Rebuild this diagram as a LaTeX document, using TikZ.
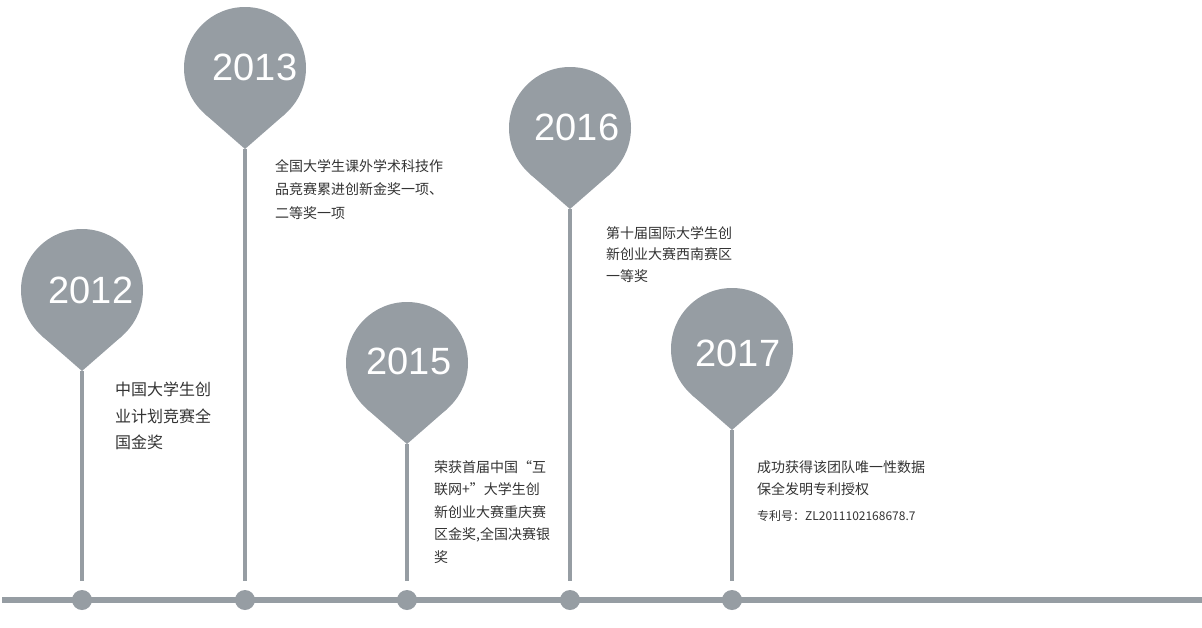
\documentclass[tikz,border=0pt]{standalone}
\usepackage{fontspec}
\usepackage{xcolor}
\usepackage{tikz}
\setmainfont{Liberation Sans}
\newfontfamily\cjk{Noto Sans CJK SC}
\definecolor{pinGray}  {RGB}{150, 157, 163}
\definecolor{noteGray} {RGB}{51,  51,  51}

\tikzset{
  bulb/.style  ={circle,fill=pinGray,minimum size=122,inner sep=0,outer sep=0},
  year/.style  ={text=white,font=\fontsize{38}{40}\selectfont},
  stem/.style  ={draw=pinGray,line width=4pt},
  knot/.style  ={circle,fill=pinGray,minimum size=20,inner sep=0},
  note/.style  ={anchor=north west,inner sep=0,align=left,text=noteGray},
}

\begin{document}
\begin{tikzpicture}[x=1pt,y=-1pt]

    \useasboundingbox (0,0) rectangle (1202,627);

    % ── LINHA DO TEMPO ────────────────────────────────────
    \coordinate (tlL) at (2,600);
    \coordinate (tlR) at (1202,600);
    \draw[pinGray,line width=6pt] (tlL) -- (tlR);

    % ── 2012 ──────────────────────────────────────────────
    \node[bulb] (b12) at (82,290){};
    \coordinate (t12) at (82,371);
    \coordinate (e12) at (82,581);
    \fill[pinGray] (b12.-49) -- (t12) -- (b12.-131) -- cycle;
    \draw[stem] (t12) -- (e12);
    \node[knot] (k12) at (82,600){};
    \node[year] (y12) at (91,290){2012};

    \node[note,font=\cjk\fontsize{16}{26.5}\selectfont] (n12) at (115,382){
      中国大学生创\\业计划竞赛全\\国金奖
    };

    % ── 2013 ──────────────────────────────────────────────
    \node[bulb] (b13) at (245,68){};
    \coordinate (t13) at (245,149);
    \coordinate (e13) at (245,581);
    \fill[pinGray] (b13.-49) -- (t13) -- (b13.-131) -- cycle;
    \draw[stem] (t13) -- (e13);
    \node[knot] (k13) at (245,600){};
    \node[year] (y13) at (255,67){2013};

    \node[note,font=\cjk\fontsize{14}{23.5}\selectfont] (n13) at (275,159){
      全国大学生课外学术科技作\\品竞赛累进创新金奖一项、\\二等奖一项
    };

    % ── 2015 ──────────────────────────────────────────────
    \node[bulb] (b15) at (407,363){};
    \coordinate (t15) at (407,444);
    \coordinate (e15) at (407,581);
    \fill[pinGray] (b15.-49) -- (t15) -- (b15.-131) -- cycle;
    \draw[stem] (t15) -- (e15);
    \node[knot] (k15) at (407,600){};
    \node[year] (y15) at (409,361){2015};

    \node[note,font=\cjk\fontsize{14}{22.5}\selectfont] (n15) at (434,460){
      荣获首届中国“互\\联网+”大学生创\\新创业大赛重庆赛\\区金奖,全国决赛银\\奖
    };

    % ── 2016 ──────────────────────────────────────────────
    \node[bulb] (b16) at (570,128){};
    \coordinate (t16) at (570,209);
    \coordinate (e16) at (570,581);
    \fill[pinGray] (b16.-49) -- (t16) -- (b16.-131) -- cycle;
    \draw[stem] (t16) -- (e16);
    \node[knot] (k16) at (570,600){};
    \node[year] (y16) at (577,127){2016};

    \node[note,font=\cjk\fontsize{14}{21.5}\selectfont] (n16) at (606,226){
      第十届国际大学生创\\新创业大赛西南赛区\\一等奖
    };

    % ── 2017 ──────────────────────────────────────────────
    \node[bulb] (b17) at (732,349){};
    \coordinate (t17) at (732,430);
    \coordinate (e17) at (732,581);
    \fill[pinGray] (b17.-49) -- (t17) -- (b17.-131) -- cycle;
    \draw[stem] (t17) -- (e17);
    \node[knot] (k17) at (732,600){};
    \node[year] (y17) at (738,353){2017};

    \node[note,font=\cjk\fontsize{14}{22}\selectfont] (n17) at (757,460){
      成功获得该团队唯一性数据\\保全发明专利授权
    };
    \node[note,font=\cjk\fontsize{12}{14}\selectfont] (p17) at (757,510){
      专利号：ZL2011102168678.7
    };

\end{tikzpicture}
\end{document}
